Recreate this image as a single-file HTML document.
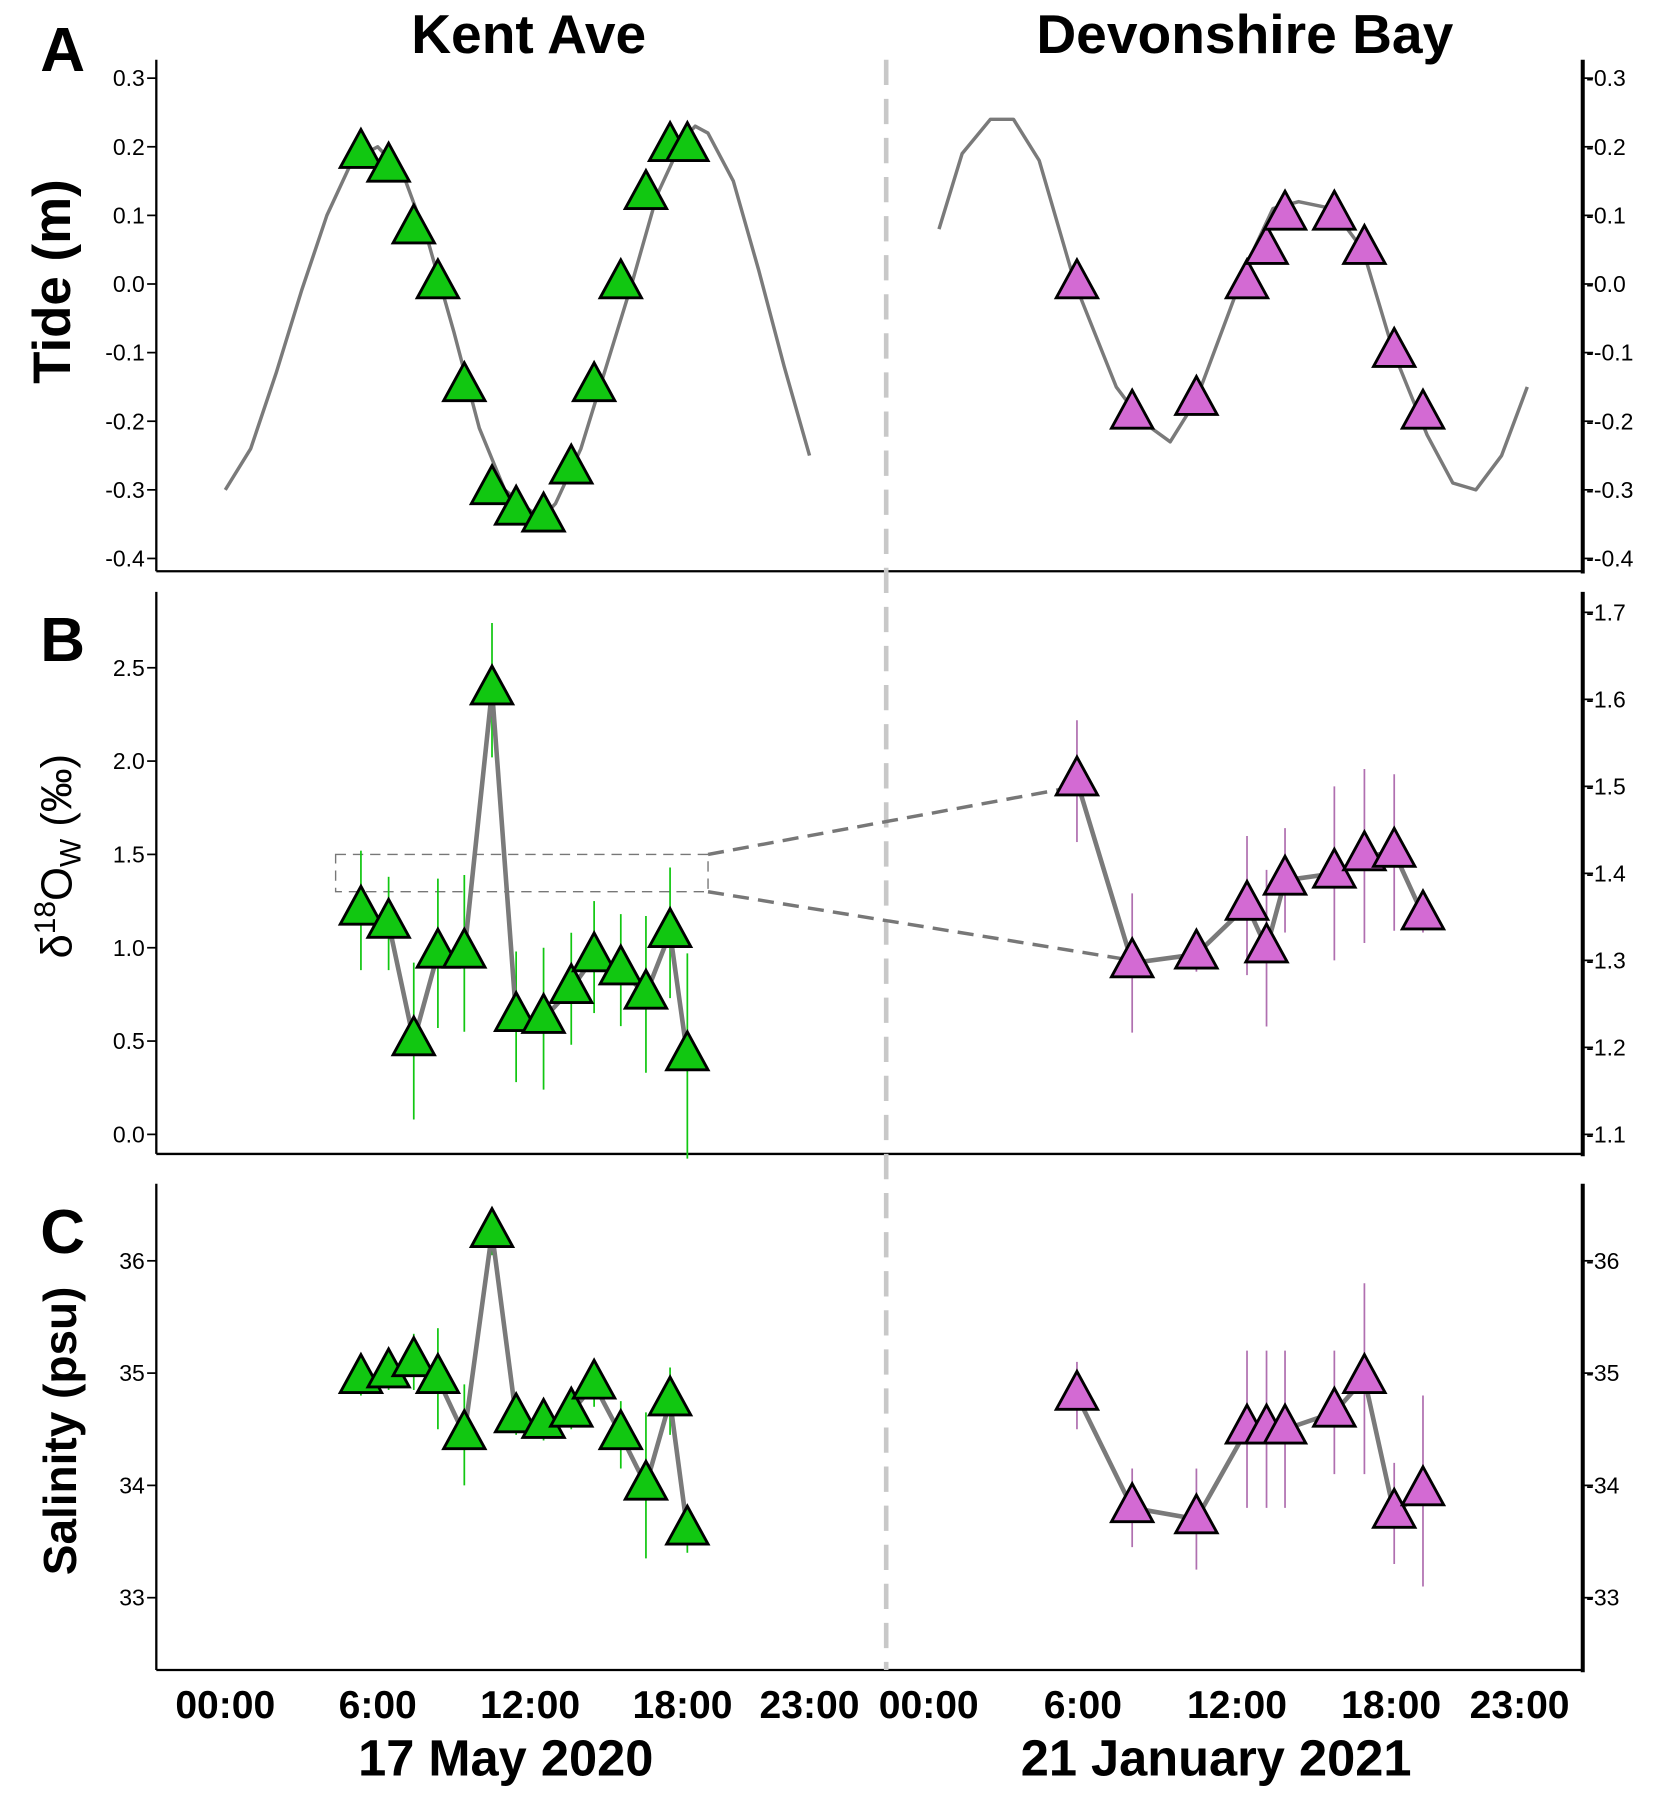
<!DOCTYPE html>
<html><head><meta charset="utf-8"><style>
html,body{margin:0;padding:0;background:#fff;}
svg{display:block;}
text{font-family:"Liberation Sans Narrow","Liberation Sans",sans-serif;}
</style></head><body>
<svg id="chart" width="1654" height="1801" viewBox="0 0 1439 1567" preserveAspectRatio="none" xmlns="http://www.w3.org/2000/svg">
<g id="static"></g>
</svg>
<script>
// ---- data ----
const kentTideHours=[0,1,2,3,4,5,6,7,8,9,10,11,12,12.5,13,14,15,16,17,18,18.5,19,20,21,22,23];
const kentTideVals=[-0.30,-0.24,-0.13,-0.01,0.10,0.18,0.20,0.16,0.06,-0.07,-0.21,-0.30,-0.33,-0.34,-0.32,-0.24,-0.12,0.0,0.13,0.21,0.23,0.22,0.15,0.02,-0.12,-0.25];
const devTideHours=[0.4,1.3,2.4,3.3,4.3,5.7,7.3,8.3,9.4,10.4,11.3,12.4,13.4,14.4,15.7,16.9,18.1,19.4,20.4,21.3,22.3,23.3];
const devTideVals=[0.08,0.19,0.24,0.24,0.18,0.0,-0.15,-0.20,-0.23,-0.17,-0.08,0.03,0.11,0.12,0.11,0.05,-0.10,-0.22,-0.29,-0.30,-0.25,-0.15];
const kentHours=[5.34,6.43,7.42,8.37,9.41,10.5,11.45,12.53,13.62,14.52,15.57,16.56,17.51,18.19];
const kentTideObs=[0.19,0.17,0.08,0.0,-0.15,-0.30,-0.33,-0.34,-0.27,-0.15,0.0,0.13,0.20,0.20];
const kentD18O=[1.2,1.13,0.5,0.97,0.97,2.38,0.63,0.62,0.78,0.95,0.88,0.75,1.08,0.42];
const kentD18OErr=[0.32,0.25,0.42,0.4,0.42,0.36,0.35,0.38,0.3,0.3,0.3,0.42,0.35,0.55];
const kentSal=[34.95,35.0,35.1,34.95,34.45,36.25,34.6,34.55,34.65,34.9,34.45,34.0,34.75,33.6];
const kentSalErr=[0.15,0.15,0.25,0.45,0.45,0.2,0.15,0.15,0.15,0.2,0.3,0.65,0.3,0.2];
const devHours=[5.77,7.92,10.42,12.39,13.15,13.87,15.79,16.96,18.12,19.24];
const devTideObs=[0.0,-0.19,-0.17,0.0,0.05,0.10,0.10,0.05,-0.10,-0.19];
const devD18O=[1.506,1.297,1.307,1.363,1.314,1.392,1.40,1.42,1.424,1.352];
const devD18OErr=[0.07,0.08,0.02,0.08,0.09,0.06,0.1,0.1,0.09,0.02];
const devSal=[34.8,33.8,33.7,34.5,34.5,34.5,34.65,34.95,33.75,33.95];
const devSalErr=[0.3,0.35,0.45,0.7,0.7,0.7,0.55,0.85,0.45,0.85];
const tideTicks=[0.3,0.2,0.1,0.0,-0.1,-0.2,-0.3,-0.4];
const d18LeftTicks=[2.5,2.0,1.5,1.0,0.5,0.0];
const d18RightTicks=[1.7,1.6,1.5,1.4,1.3,1.2,1.1];
const salTicks=[36,35,34,33];
const timeTicks=[0,6,12,18,23];
const timeLabels=["00:00","6:00","12:00","18:00","23:00"];

// ---- scales ----
const xK=h=>196+h*22.1;
const xD=h=>808+h*22.35;
const yTide=v=>68+(0.3-v)*597;
const yD18L=v=>987-v*162.4;
const yD18R=v=>987-(v-1.1)*757;
const ySal=v=>1097+(36-v)*97.7;

const NS="http://www.w3.org/2000/svg";
const svg=document.getElementById('chart');
function mk(tag,attrs,parent){const e=document.createElementNS(NS,tag);for(const k in attrs)e.setAttribute(k,attrs[k]);(parent||svg).appendChild(e);return e;}
function txt(s,attrs){const e=mk('text',attrs);e.textContent=s;return e;}

// axes frames
const panels=[{t:52,b:497},{t:515,b:1004},{t:1030,b:1453}];
panels.forEach((p,i)=>{
  let e=mk('line',{x1:136,y1:p.t,x2:136,y2:p.b,stroke:'#000','stroke-width':2});
  
  
  e=mk('line',{x1:1377,y1:p.t,x2:1377,y2:p.b+2,stroke:'#000','stroke-width':3.5});
  
  
  e=mk('line',{x1:136,y1:p.b,x2:1378,y2:p.b,stroke:'#000','stroke-width':2});
  
  
});
function ticks(vals,yf,fmt,name){
  vals.forEach(v=>{
    const y=yf(v);
    mk('line',{x1:128,y1:y,x2:136,y2:y,stroke:'#000','stroke-width':1.5});
    let e=txt(fmt(v),{x:126,y:y+7,'font-size':20,'text-anchor':'end'});
    
    
  });
}
function rticks(vals,yf,fmt,name){
  vals.forEach(v=>{
    const y=yf(v);
    mk('line',{x1:1377,y1:y,x2:1386,y2:y,stroke:'#000','stroke-width':1.5});
    let e=txt(fmt(v),{x:1380,y:y+7,'font-size':20,'text-anchor':'start'});
    
    
  });
}
ticks(tideTicks,yTide,v=>v.toFixed(1),'tide');
rticks(tideTicks,yTide,v=>'-'+v.toFixed(1),'tide');
ticks(d18LeftTicks,yD18L,v=>v.toFixed(1),'d18o');
rticks(d18RightTicks,yD18R,v=>'-'+v.toFixed(1),'d18o');
ticks(salTicks,ySal,v=>String(v),'salinity');
rticks(salTicks,ySal,v=>'-'+v,'salinity');

// divider
let dv=mk('line',{x1:771,y1:52,x2:771,y2:1453,stroke:'#c8c8c8','stroke-width':4,'stroke-dasharray':'22 12'});



// x labels
timeTicks.forEach((h,i)=>{
  let e=txt(timeLabels[i],{x:xK(h),y:1495,'font-size':34,'font-weight':'bold','text-anchor':'middle'});
  
  
  e=txt(timeLabels[i],{x:xD(h),y:1495,'font-size':34,'font-weight':'bold','text-anchor':'middle'});
  
  
});
let t;
t=txt('17 May 2020',{x:440,y:1545,'font-size':44,'font-weight':'bold','text-anchor':'middle'});

t=txt('21 January 2021',{x:1058,y:1545,'font-size':44,'font-weight':'bold','text-anchor':'middle'});

t=txt('Kent Ave',{x:460,y:46,'font-size':48,'font-weight':'bold','text-anchor':'middle','font-family':'Liberation Sans, sans-serif'});

t=txt('Devonshire Bay',{x:1083,y:46,'font-size':48,'font-weight':'bold','text-anchor':'middle','font-family':'Liberation Sans, sans-serif'});

[['A',62],['B',575],['C',1090]].forEach(([l,y])=>{
  const e=txt(l,{x:35,y:y,'font-size':54,'font-weight':'bold','font-family':'Liberation Sans, sans-serif'});
  
  
});
t=txt('Tide (m)',{x:0,y:0,'font-size':46,'font-weight':'bold','text-anchor':'middle','font-family':'Liberation Sans, sans-serif',transform:'translate(61,245) rotate(-90)'});

t=mk('text',{x:0,y:0,'font-size':38,'text-anchor':'middle','font-family':'Liberation Sans, sans-serif',transform:'translate(62,745) rotate(-90)'});
t.innerHTML='δ<tspan dy="-14" font-size="26">18</tspan><tspan dy="14">O</tspan><tspan dy="8" font-size="26">W</tspan><tspan dy="-8"> (‰)</tspan>';

t=txt('Salinity (psu)',{x:0,y:0,'font-size':40,'font-weight':'bold','text-anchor':'middle','font-family':'Liberation Sans, sans-serif',transform:'translate(66,1245) rotate(-90)'});


// zoom box
let zb=mk('rect',{x:292,y:yD18L(1.5),width:324,height:yD18L(1.3)-yD18L(1.5),fill:'none',stroke:'#777','stroke-width':1.2,'stroke-dasharray':'9 6'});

let c1=mk('line',{x1:616,y1:yD18L(1.5),x2:xD(devHours[0]),y2:yD18R(1.5),stroke:'#777','stroke-width':3,'stroke-dasharray':'14 8'});

let c2=mk('line',{x1:616,y1:yD18L(1.3),x2:xD(devHours[1]),y2:yD18R(1.3),stroke:'#777','stroke-width':3,'stroke-dasharray':'14 8'});


function line(hs,vs,xf,yf,w,name){
  const e=mk('polyline',{points:hs.map((h,i)=>xf(h)+','+yf(vs[i])).join(' '),fill:'none',stroke:'#7a7a7a','stroke-width':w,'stroke-linejoin':'round'});
  
  
}
function errs(hs,vs,es,xf,yf,col,name){
  hs.forEach((h,i)=>{
    const e=mk('line',{x1:xf(h),x2:xf(h),y1:yf(vs[i]+es[i]),y2:yf(vs[i]-es[i]),stroke:col,'stroke-width':1.5});
    
    
  });
}
function tris(hs,vs,xf,yf,col,name){
  hs.forEach((h,i)=>{
    const x=xf(h),y=yf(vs[i]);
    const e=mk('polygon',{points:`${x},${y-21} ${x-18},${y+12} ${x+18},${y+12}`,fill:col,stroke:'#000','stroke-width':2.5,'stroke-linejoin':'miter'});
    
    
  });
}
const G='#11c711',P='#d36ad3',PE='#b070b0';
line(kentTideHours,kentTideVals,xK,yTide,3,'kent-tide-curve');
line(devTideHours,devTideVals,xD,yTide,3,'devonshire-tide-curve');
tris(kentHours,kentTideObs,xK,yTide,G,'kent-tide-point');
tris(devHours,devTideObs,xD,yTide,P,'devonshire-tide-point');

errs(kentHours,kentD18O,kentD18OErr,xK,yD18L,G,'kent-d18o-error');
line(kentHours,kentD18O,xK,yD18L,4,'kent-d18o-line');
tris(kentHours,kentD18O,xK,yD18L,G,'kent-d18o-point');
errs(devHours,devD18O,devD18OErr,xD,yD18R,PE,'devonshire-d18o-error');
line(devHours,devD18O,xD,yD18R,4,'devonshire-d18o-line');
tris(devHours,devD18O,xD,yD18R,P,'devonshire-d18o-point');

errs(kentHours,kentSal,kentSalErr,xK,ySal,G,'kent-salinity-error');
line(kentHours,kentSal,xK,ySal,4,'kent-salinity-line');
tris(kentHours,kentSal,xK,ySal,G,'kent-salinity-point');
errs(devHours,devSal,devSalErr,xD,ySal,PE,'devonshire-salinity-error');
line(devHours,devSal,xD,ySal,4,'devonshire-salinity-line');
tris(devHours,devSal,xD,ySal,P,'devonshire-salinity-point');
</script>
</body></html>
